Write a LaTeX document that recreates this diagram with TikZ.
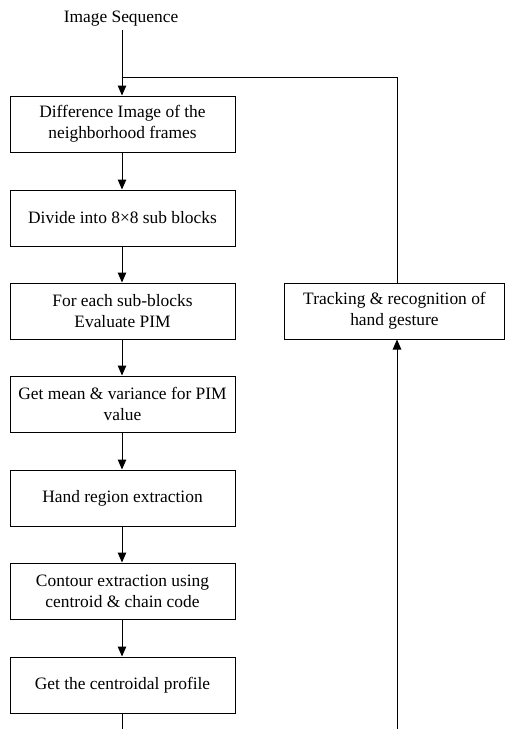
\documentclass[tikz,border=0pt]{standalone}
\usepackage{fontspec}
\setmainfont{Liberation Serif}
\usetikzlibrary{arrows.meta}
\begin{document}
\begin{tikzpicture}[x=1pt,y=-1pt,
  txt/.style={font=\fontsize{17.4}{21}\selectfont},
  stepbox/.style={draw, line width=1pt, minimum width=225pt, minimum height=56pt, inner sep=0pt, align=center, txt},
  arr/.style={line width=1pt, -{Triangle[length=10pt,width=8.5pt]}},
  ln/.style={line width=1pt}]
\useasboundingbox (0,0) rectangle (505,729);
\node[txt] (src) at (121,19) {Image Sequence};
\node[stepbox] (b1) at (122.5,124) {Difference Image of the\\neighborhood frames};
\node[stepbox] (b2) at (122.5,218) {Divide into 8×8 sub blocks};
\node[stepbox] (b3) at (122.5,311) {For each sub-blocks\\Evaluate PIM};
\node[stepbox] (b4) at (122.5,404) {Get mean \& variance for PIM\\value};
\node[stepbox] (b5) at (122.5,498) {Hand region extraction};
\node[stepbox] (b6) at (122.5,591) {Contour extraction using\\centroid \& chain code};
\node[stepbox] (b7) at (122.5,685) {Get the centroidal profile};
\node[stepbox, minimum width=220pt] (tr) at (394.5,311) {Tracking \& recognition of\\hand gesture};
\coordinate (j) at (122,77);
\coordinate (c1) at (397,77);
\coordinate (bl) at (122,729);
\coordinate (br) at (397,729);
\draw[arr] (src.south -| j) -- (b1.north -| j);
\draw[ln] (j) -- (c1) -- (tr.north -| c1);
\draw[arr] (b1.south -| j) -- (b2.north -| j);
\draw[arr] (b2.south -| j) -- (b3.north -| j);
\draw[arr] (b3.south -| j) -- (b4.north -| j);
\draw[arr] (b4.south -| j) -- (b5.north -| j);
\draw[arr] (b5.south -| j) -- (b6.north -| j);
\draw[arr] (b6.south -| j) -- (b7.north -| j);
\draw[ln] (b7.south -| j) -- (bl);
\draw[arr] (br) -- (tr.south -| br);
\end{tikzpicture}
\end{document}
